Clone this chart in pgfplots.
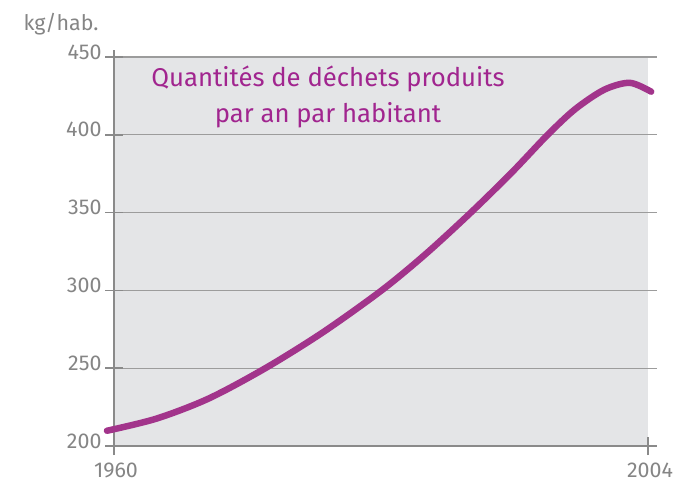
\documentclass[border=0pt]{standalone}
\usepackage{pgfplots}
\pgfplotsset{compat=1.18}
\usepackage{fontspec}
\setmainfont{Fira Sans}
\definecolor{bg}{HTML}{E4E5E7}
\definecolor{gridc}{HTML}{9C9C9C}
\definecolor{axc}{HTML}{8A8A8A}
\definecolor{txt}{HTML}{858585}
\definecolor{curve}{HTML}{A2348B}
\definecolor{ttl}{HTML}{A1258F}
\begin{document}
\begin{tikzpicture}
\begin{axis}[
  set layers,
  at={(0,0)}, anchor=south west,
  scale only axis, width=543bp, height=396bp,
  xmin=1960, xmax=2004.74, ymin=200, ymax=454.5,
  axis lines=left,
  axis line style={-, axc, line width=1.8pt},
  xtick={1960,2004}, ytick={200,250,...,450},
  x tick label style={/pgf/number format/1000 sep={}, yshift=-4bp, xshift=2bp},
  y tick label style={yshift=5bp},
  /pgf/number format/assume math mode=true,
  tick align=center, major tick length=18bp,
  tick style={axc, line width=1.6pt},
  ymajorgrids, grid style={gridc, line width=1.1pt},
  tick label style={font=\fontsize{21.5}{24}\selectfont, text=txt},
  clip=false,
]
\begin{pgfonlayer}{axis background}
\fill[bg] (axis cs:1960,200) rectangle (axis cs:2004,450);
\end{pgfonlayer}
\addplot[curve, line width=6.5pt, smooth, line cap=round] coordinates {
(1959.42,209.8) (1963.5,217.6) (1967.8,230.5) (1972.47,250) (1977.2,273)
(1982.05,300) (1985.7,323.5) (1989.4,350) (1992.8,376) (1995.73,400)
(1998.0,416.5) (2000.4,429.0) (2002.5,433.4) (2004.26,427.7)
};
\end{axis}
\node[text=txt, font=\fontsize{21.5}{24}\selectfont] at (-53bp,422bp) {kg/hab.};
\node[text=ttl, font=\fontsize{25.8}{36.5}\selectfont, align=center] at (214bp,349bp) {Quantités de déchets produits\\par an par habitant};
\pgfresetboundingbox
\useasboundingbox (-114bp,-38bp) rectangle (563bp,446bp);
\end{tikzpicture}
\end{document}
